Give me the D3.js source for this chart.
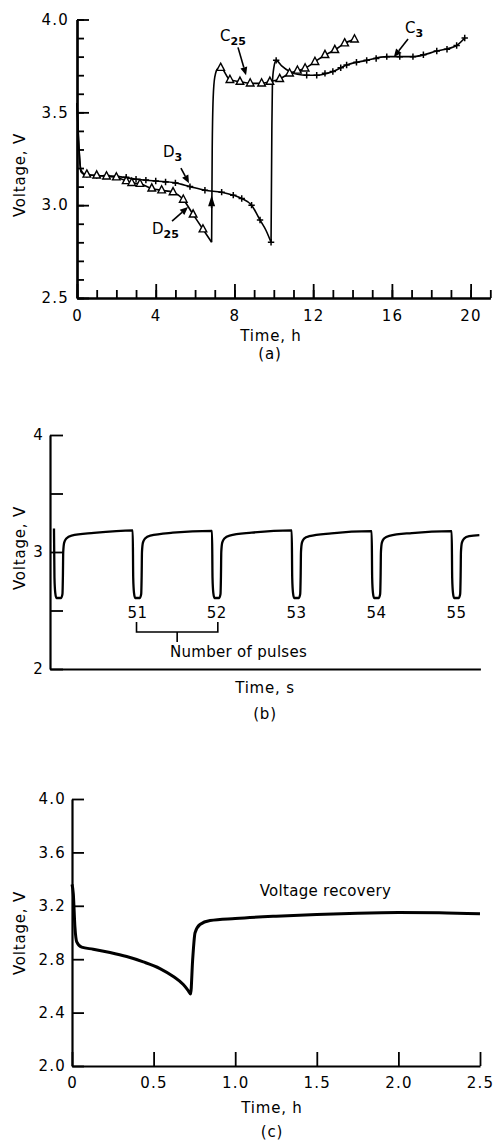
<!DOCTYPE html>
<html><head><meta charset="utf-8">
<script src="https://cdn.jsdelivr.net/npm/d3@7"></script>
<style>
body{margin:0;background:#fff}
text{font-family:"DejaVu Sans",sans-serif;fill:#000}
</style>
</head><body>
<svg id="chart" width="494" height="1143"></svg>
<script>
// ---------- Panel (a): discharge / charge curves, time in h, voltage in V ----------
const D3line = [[0,3.55],[0.08,3.35],[0.2,3.19],[0.4,3.165],[1,3.16],[2,3.155],[3,3.14],[4,3.13],[5,3.12],[5.74,3.10],[6.5,3.08],[7.35,3.07],[7.94,3.054],[8.37,3.036],[8.87,3.0],[9.3,2.92],[9.6,2.865],[9.86,2.80]];
const D3marks = [[0.5,3.165],[1,3.16],[1.5,3.16],[2,3.155],[2.5,3.15],[3,3.14],[3.5,3.135],[4,3.13],[4.5,3.125],[5,3.12],[5.74,3.10],[6.5,3.08],[7.35,3.07],[7.94,3.054],[8.37,3.036],[8.87,3.0],[9.3,2.92],[9.86,2.80]];
const D25line = [[0,3.55],[0.08,3.35],[0.2,3.18],[0.4,3.165],[1,3.16],[2,3.15],[2.78,3.12],[3.2,3.115],[3.8,3.09],[4.3,3.08],[4.88,3.07],[5.4,3.03],[5.9,2.95],[6.4,2.87],[6.84,2.80]];
const D25marks = [[0.5,3.165],[1,3.16],[1.5,3.155],[2,3.15],[2.5,3.13],[2.78,3.12],[3.2,3.115],[3.8,3.09],[4.3,3.08],[4.88,3.07],[5.4,3.03],[5.9,2.95],[6.4,2.87]];
const C25line = [[6.84,2.80],[6.87,3.3],[6.92,3.58],[7.0,3.69],[7.15,3.735],[7.3,3.74],[7.77,3.675],[8.28,3.665],[8.8,3.656],[9.38,3.656],[9.8,3.665],[10.3,3.68],[10.8,3.71],[11.59,3.737],[12.09,3.772],[12.6,3.809],[13.1,3.836],[13.6,3.872],[14.1,3.893]];
const C25marks = [[7.3,3.74],[7.77,3.675],[8.28,3.665],[8.8,3.656],[9.38,3.656],[9.8,3.665],[10.3,3.68],[10.8,3.71],[11.2,3.725],[11.59,3.737],[12.09,3.772],[12.6,3.809],[13.1,3.836],[13.6,3.872],[14.1,3.893]];
const C3line = [[9.86,2.80],[9.9,3.4],[9.93,3.66],[10.0,3.74],[10.12,3.78],[10.4,3.75],[10.8,3.72],[11.2,3.705],[11.67,3.70],[12.18,3.70],[13.0,3.72],[13.7,3.755],[14.72,3.78],[15.74,3.80],[16.5,3.80],[17.07,3.80],[18.28,3.83],[19.29,3.86],[19.7,3.90]];
const C3marks = [[10.12,3.78],[11.67,3.70],[12.18,3.70],[12.6,3.71],[13.0,3.72],[13.4,3.74],[13.7,3.755],[14.2,3.77],[14.72,3.78],[15.2,3.79],[15.74,3.80],[16.4,3.80],[17.07,3.80],[17.6,3.81],[18.28,3.83],[18.8,3.84],[19.29,3.86],[19.7,3.90]];
const aXMinor = [0,1,2,3,4,5,6,7,8,9,10,11,12,13,14,15,16,17,18,19,20,21];
const aXMajor = [0,4,8,12,16,20];
const aYMinor = [2.5,2.6,2.7,2.8,2.9,3.0,3.1,3.2,3.3,3.4,3.5,3.6,3.7,3.8,3.9,4.0];
const aYMajor = [2.5,3.0,3.5,4.0];
// annotation labels: [name, subscript, textT, textV, arrowFromT, arrowFromV, arrowTipT, arrowTipV]
const aLabels = [
  ["D","3",4.37,3.262,5.28,3.20,5.69,3.118],
  ["D","25",3.81,2.844,4.83,2.914,5.64,2.99],
  ["C","25",7.27,3.884,8.18,3.85,8.59,3.70],
  ["C","3",16.67,3.927,16.82,3.895,16.1,3.798]
];
const aUpArrow = [6.84,2.984,3.054];

// ---------- Panel (b): pulse train ----------
const pulseTrain = [
 [0.05,3.20],[0.056,2.78],[0.066,2.65],[0.08,2.607],[0.14,2.607],[0.156,2.64],[0.162,2.80],[0.166,3.00],[0.178,3.08],[0.205,3.115],[0.27,3.14],[0.55,3.163],[1.038,3.185],
 [1.044,2.78],[1.054,2.65],[1.068,2.607],[1.128,2.607],[1.144,2.64],[1.15,2.80],[1.154,3.00],[1.166,3.08],[1.193,3.115],[1.258,3.14],[1.54,3.165],[2.033,3.18],
 [2.039,2.78],[2.049,2.65],[2.063,2.607],[2.123,2.607],[2.139,2.64],[2.145,2.80],[2.149,3.00],[2.161,3.08],[2.188,3.115],[2.253,3.14],[2.53,3.165],[3.033,3.185],
 [3.039,2.78],[3.049,2.65],[3.063,2.607],[3.123,2.607],[3.139,2.64],[3.145,2.80],[3.149,3.00],[3.161,3.08],[3.188,3.115],[3.253,3.135],[3.53,3.16],[4.036,3.178],
 [4.042,2.78],[4.052,2.65],[4.066,2.607],[4.126,2.607],[4.142,2.64],[4.148,2.80],[4.152,3.00],[4.164,3.08],[4.191,3.115],[4.256,3.138],[4.54,3.162],[5.04,3.178],
 [5.046,2.78],[5.056,2.65],[5.07,2.607],[5.13,2.607],[5.146,2.64],[5.152,2.80],[5.156,3.00],[5.168,3.08],[5.195,3.115],[5.26,3.135],[5.387,3.145]
];
const pulseNumbers = ["51","52","53","54","55"];
const pulseCentres = [1.098,2.093,3.093,4.096,5.10];
const bYTicks = [2,2.5,3,3.5,4];
const bYLabels = [2,3,4];

// ---------- Panel (c): voltage recovery ----------
const recovery = [[0,3.36],[0.008,3.29],[0.018,3.04],[0.029,2.93],[0.059,2.89],[0.13,2.875],[0.233,2.85],[0.335,2.82],[0.437,2.78],[0.539,2.73],[0.621,2.67],[0.682,2.61],[0.712,2.565],[0.727,2.54],[0.739,2.79],[0.754,2.998],[0.784,3.06],[0.846,3.09],[1.0,3.105],[1.25,3.122],[1.5,3.135],[1.75,3.145],[2.0,3.15],[2.25,3.148],[2.5,3.14]];
const cYTicks = [2.0,2.4,2.8,3.2,3.6,4.0];
const cXTicks = [0,0.5,1.0,1.5,2.0,2.5];

// ================== drawing ==================
const svg = d3.select("#chart");
svg.append("rect").attr("width",494).attr("height",1143).attr("fill","#fff");
const FS = 15;

function styleAxis(g){
  g.attr("font-family",null).attr("font-size",null);
  g.select(".domain").attr("stroke","#000").attr("stroke-width",2.2);
  g.selectAll(".tick line").attr("stroke","#000").attr("stroke-width",1.8);
  g.selectAll(".tick text").attr("font-size",FS).attr("letter-spacing",1.2).attr("fill","#000");
}
function arrowHead(g, x1,y1,x2,y2, len, half){
  const dx=x2-x1, dy=y2-y1, L=Math.hypot(dx,dy), ux=dx/L, uy=dy/L;
  const bx=x2-ux*len, by=y2-uy*len;
  g.append("line").attr("x1",x1).attr("y1",y1).attr("x2",bx).attr("y2",by).attr("stroke","#000").attr("stroke-width",1.6);
  g.append("path").attr("d",`M${x2},${y2}L${bx-uy*half},${by+ux*half}L${bx+uy*half},${by-ux*half}Z`).attr("fill","#000");
}
function yTitle(x,y,txt){
  svg.append("text").attr("transform",`translate(${x},${y}) rotate(-90)`).attr("text-anchor","middle")
    .attr("font-size",FS).attr("letter-spacing",0.8).text(txt);
}
function cText(x,y,txt){
  return svg.append("text").attr("x",x).attr("y",y).attr("text-anchor","middle").attr("font-size",FS).attr("letter-spacing",0.8).text(txt);
}

// ---- Panel (a)
const xA = d3.scaleLinear().domain([0,21]).range([77,490.3]);
const yA = d3.scaleLinear().domain([2.5,4.0]).range([298,19.5]);
const gA = svg.append("g");
gA.append("g").attr("transform",`translate(0,${yA(2.5)})`).call(d3.axisBottom(xA).tickValues(aXMinor).tickSize(-8).tickSizeOuter(0).tickFormat("")).call(styleAxis);
gA.append("g").attr("transform",`translate(0,${yA(2.5)})`).call(d3.axisBottom(xA).tickValues(aXMajor).tickSize(-14).tickSizeOuter(0).tickPadding(12)).call(styleAxis);
gA.append("g").attr("transform",`translate(${xA(0)},0)`).call(d3.axisLeft(yA).tickValues(aYMinor).tickSize(-7).tickSizeOuter(0).tickFormat("")).call(styleAxis);
gA.append("g").attr("transform",`translate(${xA(0)},0)`).call(d3.axisLeft(yA).tickValues(aYMajor).tickSize(-12).tickSizeOuter(0).tickPadding(8).tickFormat(d3.format(".1f"))).call(styleAxis);

const lineA = d3.line().x(d=>xA(d[0])).y(d=>yA(d[1])).curve(d3.curveMonotoneX);
[D3line,D25line,C25line,C3line].forEach(s=>{
  gA.append("path").attr("d",lineA(s)).attr("fill","none").attr("stroke","#000").attr("stroke-width",1.6);
});
function crosses(pts){
  gA.append("g").selectAll("path").data(pts).join("path")
    .attr("d",d=>{const cx=xA(d[0]),cy=yA(d[1]);return `M${cx-3.2},${cy}H${cx+3.2}M${cx},${cy-3.2}V${cy+3.2}`;})
    .attr("stroke","#000").attr("stroke-width",1.5);
}
function triangles(pts){
  gA.append("g").selectAll("path").data(pts).join("path")
    .attr("d",d=>{const cx=xA(d[0]),cy=yA(d[1]);return `M${cx},${cy-4.6}L${cx+3.8},${cy+2.6}L${cx-3.8},${cy+2.6}Z`;})
    .attr("fill","#fff").attr("stroke","#000").attr("stroke-width",1.4);
}
crosses(D3marks); crosses(C3marks);
triangles(D25marks); triangles(C25marks);

aLabels.forEach(l=>{
  const t = gA.append("text").attr("x",xA(l[2])).attr("y",yA(l[3])).attr("font-size",FS);
  t.append("tspan").text(l[0]);
  t.append("tspan").attr("dy",4).attr("font-size",11).attr("font-weight","bold").text(l[1]);
  arrowHead(gA, xA(l[4]),yA(l[5]),xA(l[6]),yA(l[7]),8,3.5);
});
arrowHead(gA, xA(aUpArrow[0]),yA(aUpArrow[1]),xA(aUpArrow[0]),yA(aUpArrow[2]),11,3.5);

yTitle(25,175,"Voltage, V");
cText(271,341,"Time, h");
cText(270,359,"(a)");

// ---- Panel (b)
const xB = d3.scaleLinear().domain([0,5.4]).range([50,480.4]);
const yB = d3.scaleLinear().domain([2,4]).range([669,435]);
const gB = svg.append("g");
gB.append("g").attr("transform",`translate(0,${yB(2)})`).call(d3.axisBottom(xB).tickValues([]).tickSizeOuter(0)).call(styleAxis);
gB.append("g").attr("transform",`translate(${xB(0)},0)`).call(d3.axisLeft(yB).tickValues(bYTicks).tickSize(-13).tickSizeOuter(0).tickPadding(6)
   .tickFormat(d=>bYLabels.includes(d)?String(d):"")).call(styleAxis);
const lineB = d3.line().x(d=>xB(d[0])).y(d=>yB(d[1])).curve(d3.curveMonotoneX);
gB.append("path").attr("d",lineB(pulseTrain)).attr("fill","none").attr("stroke","#000").attr("stroke-width",2.3).attr("stroke-linejoin","round");
gB.selectAll("text.pn").data(pulseNumbers).join("text").attr("class","pn")
  .attr("x",(d,i)=>xB(pulseCentres[i])).attr("y",yB(2)-51).attr("text-anchor","middle").attr("font-size",FS).attr("letter-spacing",0.5).text(d=>d);
// bracket between pulses 51 and 52
const bx1=xB(pulseCentres[0])-1, bx2=xB(pulseCentres[1])+1, by=yB(2)-37, bm=(bx1+bx2)/2;
gB.append("path").attr("d",`M${bx1},${by-10}V${by}H${bx2}V${by-10}M${bm},${by}V${by+10}`).attr("fill","none").attr("stroke","#000").attr("stroke-width",1.6);
gB.append("text").attr("x",170).attr("y",yB(2)-12).attr("font-size",FS).attr("letter-spacing",0.3).text("Number of pulses");
yTitle(25,548,"Voltage, V");
cText(265,693,"Time, s");
cText(265,719,"(b)");

// ---- Panel (c)
const xC = d3.scaleLinear().domain([0,2.5]).range([72,480]);
const yC = d3.scaleLinear().domain([2,4]).range([1066,799]);
const gC = svg.append("g");
gC.append("g").attr("transform",`translate(0,${yC(2)})`).call(d3.axisBottom(xC).tickValues(cXTicks).tickSize(-14).tickSizeOuter(0).tickPadding(11.5)
   .tickFormat(d=>d===0?"0":d3.format(".1f")(d))).call(styleAxis);
gC.append("g").attr("transform",`translate(${xC(0)},0)`).call(d3.axisLeft(yC).tickValues(cYTicks).tickSize(-12).tickSizeOuter(0).tickPadding(6)
   .tickFormat(d3.format(".1f"))).call(styleAxis);
const lineC = d3.line().x(d=>xC(d[0])).y(d=>yC(d[1])).curve(d3.curveMonotoneX);
gC.append("path").attr("d",lineC(recovery)).attr("fill","none").attr("stroke","#000").attr("stroke-width",3).attr("stroke-linejoin","round");
gC.append("text").attr("x",xC(1.15)).attr("y",yC(3.27)).attr("font-size",FS).attr("letter-spacing",0.3).text("Voltage recovery");
yTitle(25,933,"Voltage, V");
cText(272,1113,"Time, h");
cText(272,1137,"(c)");
</script>
</body></html>
